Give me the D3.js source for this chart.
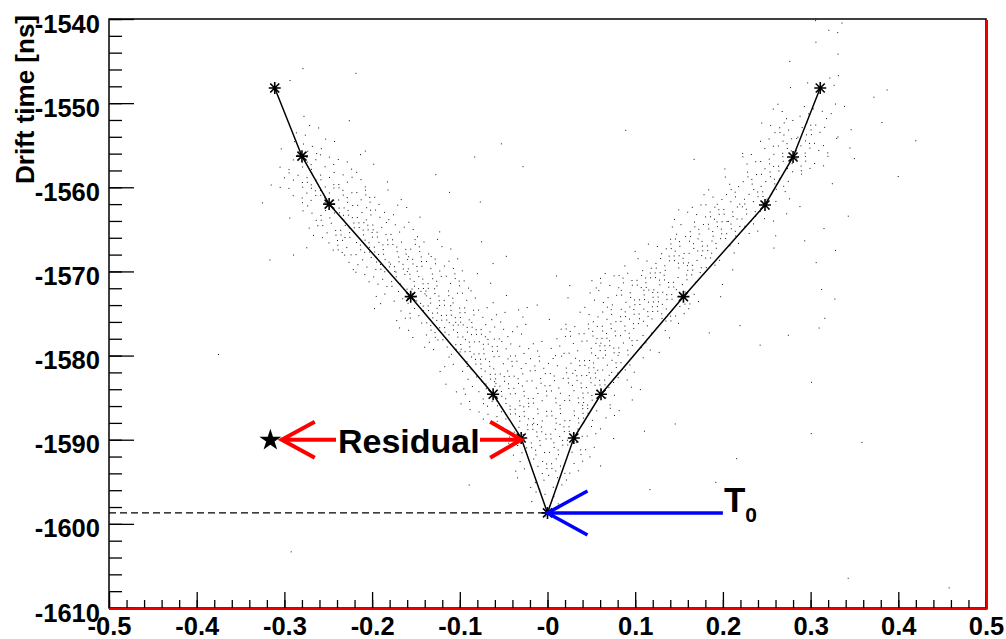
<!DOCTYPE html>
<html>
<head>
<meta charset="utf-8">
<script src="https://cdn.jsdelivr.net/npm/d3@7"></script>
<style>
  html, body { margin: 0; padding: 0; background: #fff; }
  svg { display: block; }
  text { font-family: "Liberation Sans", Arial, Helvetica, sans-serif; font-weight: bold; fill: #000; }
</style>
</head>
<body>
<svg id="chart" width="1006" height="639"></svg>
<script>
// Calibration points (wire position vs. fitted drift time)
const pointX = [-0.311, -0.280, -0.249, -0.156, -0.062, -0.030, 0.000, 0.030, 0.061, 0.155, 0.248, 0.280, 0.311];
const pointY = [-1548.2, -1556.3, -1562.0, -1573.0, -1584.6, -1589.8, -1598.7, -1589.8, -1584.6, -1573.0, -1562.1, -1556.4, -1548.2];

// T0 level and annotation anchors
const t0 = -1598.7;
const residualY = -1590;
const residualStarX = -0.316;
const residualLeftTip = -0.303;
const residualRightTip = -0.030;
const t0ArrowEnd = 0.2;

// Axis ranges and tick labels
const xDomain = [-0.5, 0.5];
const yDomain = [-1610, -1540];
const xTicks = [-0.5, -0.4, -0.3, -0.2, -0.1, 0, 0.1, 0.2, 0.3, 0.4, 0.5];
const xTickLabels = ["-0.5", "-0.4", "-0.3", "-0.2", "-0.1", "-0", "0.1", "0.2", "0.3", "0.4", "0.5"];
const yTicks = [-1610, -1600, -1590, -1580, -1570, -1560, -1550, -1540];
const yTickLabels = ["-1610", "-1600", "-1590", "-1580", "-1570", "-1560", "-1550", "-1540"];

// Hit histogram: bins 0.02 wide in x (from -0.5), 2 ns tall in y (from -1540 downward).
// Each character is the bin content (base 36).
const hitBinW = 0.02;
const hitBinH = 2;
const hitCounts = [
  "00000000000000000000000000000000000000001300000000",
  "00000000000000000000000000000000000000001000000000",
  "00000000000100000000000000000000000000100100000000",
  "00000000001000100000000000000000000000010300000000",
  "00000000000000000000000000000000000000100001100000",
  "00000000000100000000000000000000000001333300000000",
  "00000000001301000000000000000100000003664110100000",
  "00000000011430100000001000000000000014774110010000",
  "00000000014643110000100100000000010146763010000000",
  "00000000034664310010000000000000000367410100100000",
  "00000000103677631001010000000000014676300000000000",
  "00000000001479743100000000000000347774110010000000",
  "00000000000369974310000000000000479741001000000000",
  "00000000001136997631010000000114797401010100000000",
  "00000000010003499964111000000147974100001000000000",
  "00000000000000346976310001134799631000000000000000",
  "00000000000000034997411010134799631000001100000000",
  "00000000000000013699743301146997410000001000000000",
  "00000000000000001379974303679743101100101000000000",
  "00000010000000000136996434479741000001000000000000",
  "00000000000000000013796464797410000000000000000000",
  "00000000000000000001499766996310000000001000000000",
  "00000000000000000001379766774100000000000000000000",
  "00000000000000000000147977763100000000000000000000",
  "00000000000000000000003797741010100000001000000000",
  "00000000000000000000001477630000000000000010000000",
  "00000000000000000000000366410000000100000000000000",
  "00000000000000000000100144100010001000000000000000",
  "00000000000000000000000033000000000000000000000000",
  "00000000000000000000000011000000000000000000000000",
  "00000000000000000000000000000000000000000000000000",
  "00000000001000000000000000000000000000000000000000",
  "00000000000000000000000000000000000000000000000000",
  "00000000000000000000000000000000000000000010000100",
  "00000000000000000000000000000000000000000000000000"
];

const svg = d3.select("#chart");
const plotL = 109, plotR = 986, plotT = 19, plotB = 608;

const x = d3.scaleLinear().domain(xDomain).range([plotL, plotR]);
const y = d3.scaleLinear().domain(yDomain).range([plotB, plotT]);

svg.append("defs").append("clipPath").attr("id", "plotClip")
  .append("rect").attr("x", plotL).attr("y", plotT)
  .attr("width", plotR - plotL).attr("height", plotB - plotT);

// Scatter of hits: dots spread inside each bin on a plastic-number (R2) lattice
const g1 = 1.32471795724474602596;
const a1 = 1 / g1, a2 = 1 / (g1 * g1);
const hits = [];
let n = 0;
hitCounts.forEach((row, r) => {
  for (let c = 0; c < row.length; c++) {
    const cnt = parseInt(row[c], 36);
    for (let k = 0; k < cnt; k++) {
      n++;
      const u = (0.5 + a1 * n) % 1;
      const v = (0.5 + a2 * n) % 1;
      hits.push([xDomain[0] + hitBinW * (c + u), yDomain[1] - hitBinH * (r + v)]);
    }
  }
});

svg.append("g").attr("clip-path", "url(#plotClip)")
  .selectAll("rect").data(hits).join("rect")
  .attr("x", d => x(d[0]))
  .attr("y", d => y(d[1]))
  .attr("width", 1).attr("height", 1)
  .attr("fill", "#111");

// Dashed T0 level
svg.append("line")
  .attr("x1", x(xDomain[0])).attr("x2", x(0))
  .attr("y1", y(t0)).attr("y2", y(t0))
  .attr("stroke", "#000").attr("stroke-width", 1.3)
  .attr("stroke-dasharray", "7,4");

// Connecting line through the calibration points
const pts = pointX.map((v, i) => [v, pointY[i]]);
svg.append("path")
  .datum(pts)
  .attr("d", d3.line().x(d => x(d[0])).y(d => y(d[1])))
  .attr("fill", "none").attr("stroke", "#000").attr("stroke-width", 1.5);

// Asterisk markers
const asterisk = "M-6,0L6,0M0,-6L0,6M-4.5,-4.5L4.5,4.5M-4.5,4.5L4.5,-4.5";
svg.append("g").selectAll("path").data(pts).join("path")
  .attr("transform", d => `translate(${x(d[0])},${y(d[1])})`)
  .attr("d", asterisk)
  .attr("stroke", "#000").attr("stroke-width", 1.6).attr("fill", "none");

// Arrow helper: shaft from tail to tip with two barbs at the tip
function arrow(tipX, tailX, yy, color, barbDx, barbDy, width) {
  const tx = x(tipX), ty = y(yy), ex = x(tailX);
  const dir = Math.sign(ex - tx);
  const g = svg.append("g").attr("stroke", color).attr("stroke-width", width)
    .attr("fill", "none").attr("stroke-linecap", "butt");
  g.append("line").attr("x1", tx).attr("y1", ty).attr("x2", ex).attr("y2", ty);
  g.append("path").attr("d",
    `M${tx + dir * barbDx},${ty - barbDy}L${tx},${ty}L${tx + dir * barbDx},${ty + barbDy}`)
    .attr("stroke-linejoin", "miter");
}

// Residual annotation
svg.append("text")
  .attr("x", 338).attr("y", y(residualY) + 13)
  .attr("font-size", 34)
  .text("Residual");

arrow(residualLeftTip, x.invert(336), residualY, "#f00", 33, 18, 4);
arrow(residualRightTip, x.invert(480), residualY, "#f00", 31, 18, 4);

svg.append("path")
  .attr("transform", `translate(${x(residualStarX)},${y(residualY) + 0.5})`)
  .attr("d", d3.symbol(d3.symbolStar).size(150)())
  .attr("fill", "#000");

// T0 annotation
arrow(0, t0ArrowEnd, t0, "#00f", 40, 22, 3.5);
const t0Label = svg.append("text")
  .attr("x", x(t0ArrowEnd) + 1).attr("y", y(t0) - 1)
  .attr("font-size", 35);
t0Label.append("tspan").text("T");
t0Label.append("tspan").attr("font-size", 21).attr("dy", 10).text("0");

// Axes
const xMinor = d3.range(-0.5, 0.5001, 0.02).map(v => +v.toFixed(2));
const yMinor = d3.range(-1610, -1539.9, 2);

svg.append("g").attr("transform", `translate(0,${plotB})`)
  .call(d3.axisBottom(x).tickValues(xMinor).tickSize(-8).tickSizeOuter(0).tickFormat(""))
  .call(g => g.select(".domain").remove())
  .call(g => g.selectAll("line").attr("stroke-width", 1.3));

svg.append("g").attr("transform", `translate(0,${plotB})`)
  .call(d3.axisBottom(x).tickValues(xTicks).tickSize(-16).tickSizeOuter(0)
    .tickFormat((d, i) => xTickLabels[i]))
  .call(g => g.select(".domain").remove())
  .call(g => g.selectAll("line").attr("stroke-width", 1.3))
  .call(g => g.selectAll("text")
    .attr("y", 27).attr("dy", null)
    .attr("font-size", 25.5)
    .attr("font-family", null));

svg.append("g").attr("transform", `translate(${plotL},0)`)
  .call(d3.axisLeft(y).tickValues(yMinor).tickSize(-13).tickSizeOuter(0).tickFormat(""))
  .call(g => g.select(".domain").remove())
  .call(g => g.selectAll("line").attr("stroke-width", 1.3));

svg.append("g").attr("transform", `translate(${plotL},0)`)
  .call(d3.axisLeft(y).tickValues(yTicks).tickSize(-25).tickSizeOuter(0)
    .tickFormat((d, i) => yTickLabels[i]))
  .call(g => g.select(".domain").remove())
  .call(g => g.selectAll("line").attr("stroke-width", 1.3))
  .call(g => g.selectAll("text")
    .attr("x", -9).attr("y", 13).attr("dy", null)
    .attr("font-size", 25.5)
    .attr("font-family", null));

// Y axis title
svg.append("text")
  .attr("transform", `translate(34,15) rotate(-90)`)
  .attr("text-anchor", "end")
  .attr("font-size", 26)
  .text("Drift time [ns]");

// Frame
svg.append("path")
  .attr("d", `M${plotL},${plotB}L${plotL},${plotT}L${plotR},${plotT}L${plotR},${plotB}Z`)
  .attr("fill", "none").attr("stroke", "#000").attr("stroke-width", 1.5);
svg.append("line").attr("x1", plotL).attr("x2", plotR + 1.5)
  .attr("y1", plotB + 1).attr("y2", plotB + 1)
  .attr("stroke", "#e00").attr("stroke-width", 2);
svg.append("line").attr("x1", plotR + 1).attr("x2", plotR + 1)
  .attr("y1", plotT + 1).attr("y2", plotB + 1)
  .attr("stroke", "#e00").attr("stroke-width", 2);
</script>
</body>
</html>
